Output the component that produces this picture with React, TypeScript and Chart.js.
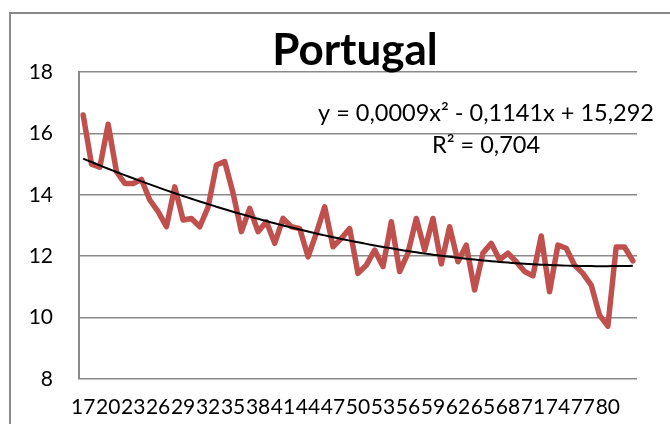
import React, { useEffect, useRef } from "react";
import { Chart, registerables } from "chart.js";

Chart.register(...registerables);

const categories = [
  "17","18","19","20","21","22","23","24","25","26","27","28","29","30","31","32","33","34","35","36",
  "37","38","39","40","41","42","43","44","45","46","47","48","49","50","51","52","53","54","55","56",
  "57","58","59","60","61","62","63","64","65","66","67","68","69","70","71","72","73","74","75","76",
  "77","78","79","80","81","82","83",
];

const tickLabels = [
  "17","20","23","26","29","32","35","38","41","44","47","50","53","56","59","62","65","68","71","74","77","80",
];

const portugalValues = [
  16.6, 15.0, 14.9, 16.3, 14.75, 14.37, 14.37, 14.5, 13.83, 13.45,
  12.96, 14.26, 13.18, 13.23, 12.96, 13.6, 14.97, 15.08, 14.05, 12.8,
  13.56, 12.8, 13.12, 12.42, 13.23, 12.96, 12.9, 11.98, 12.75, 13.61,
  12.31, 12.58, 12.9, 11.44, 11.71, 12.2, 11.66, 13.12, 11.5, 12.1,
  13.23, 12.2, 13.23, 11.75, 12.96, 11.82, 12.36, 10.9, 12.1, 12.42,
  11.88, 12.1, 11.82, 11.5, 11.36, 12.66, 10.84, 12.36, 12.26, 11.71,
  11.44, 11.06, 10.08, 9.72, 12.3, 12.3, 11.85,
];

// Trendline coefficients as printed on the chart (x = 1, 2, 3, ...)
const trendA = 0.0009;
const trendB = -0.1141;
const trendC = 15.292;

const yTicks = [8, 10, 12, 14, 16, 18];

const titleText = "Portugal";
const equationText = "y = 0,0009x² - 0,1141x + 15,292";
const r2Text = "R² = 0,704";

const FONT = "Lato, 'DejaVu Sans', sans-serif";

export default function App() {
  const canvasRef = useRef<HTMLCanvasElement | null>(null);

  useEffect(() => {
    const canvas = canvasRef.current;
    if (!canvas) return;

    const trendValues = categories.map((_, i) => {
      const x = i + 1;
      return trendA * x * x + trendB * x + trendC;
    });

    const decorations = {
      id: "decorations",
      beforeDraw(chart: any) {
        const ctx = chart.ctx;
        ctx.save();
        ctx.fillStyle = "#ffffff";
        ctx.fillRect(0, 0, chart.width, chart.height);
        ctx.strokeStyle = "#8a8a8a";
        ctx.lineWidth = 2;
        ctx.beginPath();
        ctx.moveTo(10, chart.height);
        ctx.lineTo(10, 13);
        ctx.lineTo(chart.width, 13);
        ctx.stroke();
        ctx.restore();
      },
      afterDraw(chart: any) {
        const ctx = chart.ctx;
        ctx.save();
        ctx.fillStyle = "#000000";
        ctx.textAlign = "center";
        ctx.textBaseline = "alphabetic";
        ctx.font = `bold 44px ${FONT}`;
        ctx.fillText(titleText, 355, 65);
        ctx.font = `23.5px ${FONT}`;
        ctx.textBaseline = "middle";
        ctx.fillText(equationText, 486, 113);
        ctx.fillText(r2Text, 486, 145);
        ctx.restore();
      },
    };

    const chart = new Chart(canvas, {
      type: "line",
      data: {
        labels: categories,
        datasets: [
          {
            label: "Portugal",
            data: portugalValues,
            borderColor: "#C0504D",
            backgroundColor: "#C0504D",
            borderWidth: 5.5,
            pointRadius: 0,
            tension: 0,
            borderJoinStyle: "round",
            borderCapStyle: "round",
            order: 2,
          },
          {
            label: "Trend",
            data: trendValues,
            borderColor: "#000000",
            borderWidth: 2,
            pointRadius: 0,
            tension: 0.4,
            order: 1,
          },
        ],
      },
      options: {
        responsive: false,
        animation: false,
        devicePixelRatio: 1,
        layout: { padding: { left: 0, top: 72, right: 33, bottom: 0 } },
        plugins: {
          legend: { display: false },
          title: { display: false },
          tooltip: { enabled: false },
        },
        scales: {
          x: {
            type: "category",
            offset: true,
            grid: { display: false, drawTicks: false },
            border: { display: false },
            afterFit(scale: any) {
              scale.height = 45;
            },
            ticks: {
              autoSkip: false,
              maxRotation: 0,
              minRotation: 0,
              padding: 16,
              color: "#000000",
              font: { family: FONT, size: 21 },
              callback: (_v: any, idx: number) =>
                tickLabels.includes(categories[idx]) ? categories[idx] : "",
            },
          },
          y: {
            min: 8,
            max: 18,
            afterBuildTicks(scale: any) {
              scale.ticks = yTicks.map((v) => ({ value: v }));
            },
            afterFit(scale: any) {
              scale.width = 79;
            },
            grid: {
              color: "#8a8a8a",
              lineWidth: 1.6,
              drawTicks: false,
            },
            border: { display: true, color: "#8a8a8a", width: 2 },
            ticks: {
              padding: 26,
              color: "#000000",
              font: { family: FONT, size: 21 },
            },
          },
        },
      },
      plugins: [decorations],
    });

    return () => chart.destroy();
  }, []);

  return (
    <div style={{ position: "fixed", left: 0, top: 0, width: 670, height: 424, background: "#fff" }}>
      <canvas ref={canvasRef} width={670} height={424} style={{ display: "block" }} />
    </div>
  );
}
